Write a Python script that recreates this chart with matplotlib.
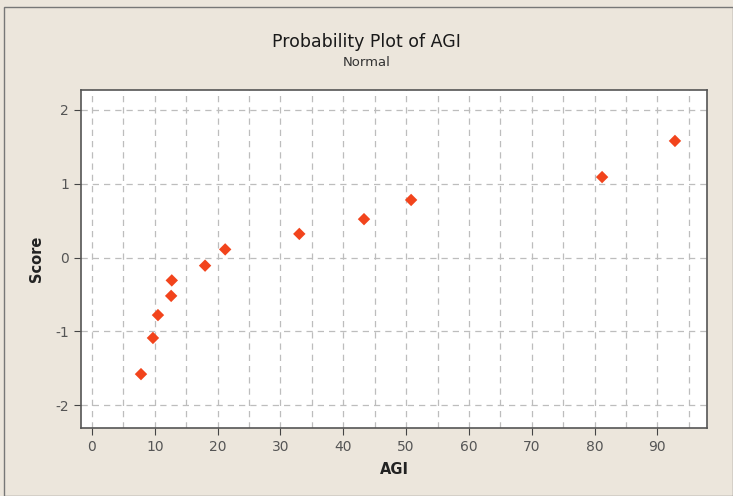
import numpy as np
import matplotlib.pyplot as plt
from matplotlib.patches import Rectangle

# data
agi = [7.8, 9.7, 10.5, 12.6, 12.7, 18.0, 21.2, 33.0, 43.3, 50.8, 81.2, 92.8]
score = [-1.58, -1.09, -0.78, -0.52, -0.31, -0.11, 0.11, 0.32, 0.52, 0.78, 1.09, 1.58]
x_ticks = list(range(0, 100, 10))
y_ticks = [-2, -1, 0, 1, 2]

bg = '#ece6dc'
plt.rcParams['font.family'] = ['DejaVu Sans']
plt.rcParams['axes.unicode_minus'] = False

fig = plt.figure(figsize=(7.33, 4.96), dpi=100, facecolor=bg)
ax = fig.add_axes([81/733, 1 - 428/496, (707-81)/733, (428-90)/496])
ax.set_facecolor('white')

ax.scatter(agi, score, marker='D', s=40, color='#f2441c', edgecolors='none', zorder=3)

ax.set_xlim(-1.75, 97.9)
ax.set_ylim(-2.31, 2.27)
ax.set_xticks(x_ticks)
ax.set_xticks(np.arange(5, 100, 10), minor=True)
ax.set_yticks(y_ticks)
ax.grid(True, which='both', axis='x', linestyle=(0, (5, 4)), color='#bdbdbd', linewidth=0.9)
ax.grid(True, which='major', axis='y', linestyle=(0, (5, 4)), color='#bdbdbd', linewidth=0.9)
ax.tick_params(which='minor', length=0)
ax.tick_params(which='major', direction='out', length=5, color='#444444',
               labelsize=10, labelcolor='#555555')
for s in ax.spines.values():
    s.set_color('#555555')
    s.set_linewidth(1.2)

ax.set_xlabel('AGI', fontsize=10.5, color='#222222', labelpad=6, fontweight='bold')
ax.set_ylabel('Score', fontsize=10.5, color='#222222', labelpad=8, fontweight='bold')

fig.text(0.5, 1 - 42/496, 'Probability Plot of AGI', ha='center', va='center',
         fontsize=12.5, color='#1a1a1a')
fig.text(0.5, 1 - 63/496, 'Normal', ha='center', va='center', fontsize=9.5, color='#333333')

# window frame
fig.patches.append(Rectangle((0.006, 0.0), 0.994, 0.985, transform=fig.transFigure,
                             fill=False, edgecolor='#777777', linewidth=1.0))

fig.savefig('out.png', dpi=100, facecolor=bg)
